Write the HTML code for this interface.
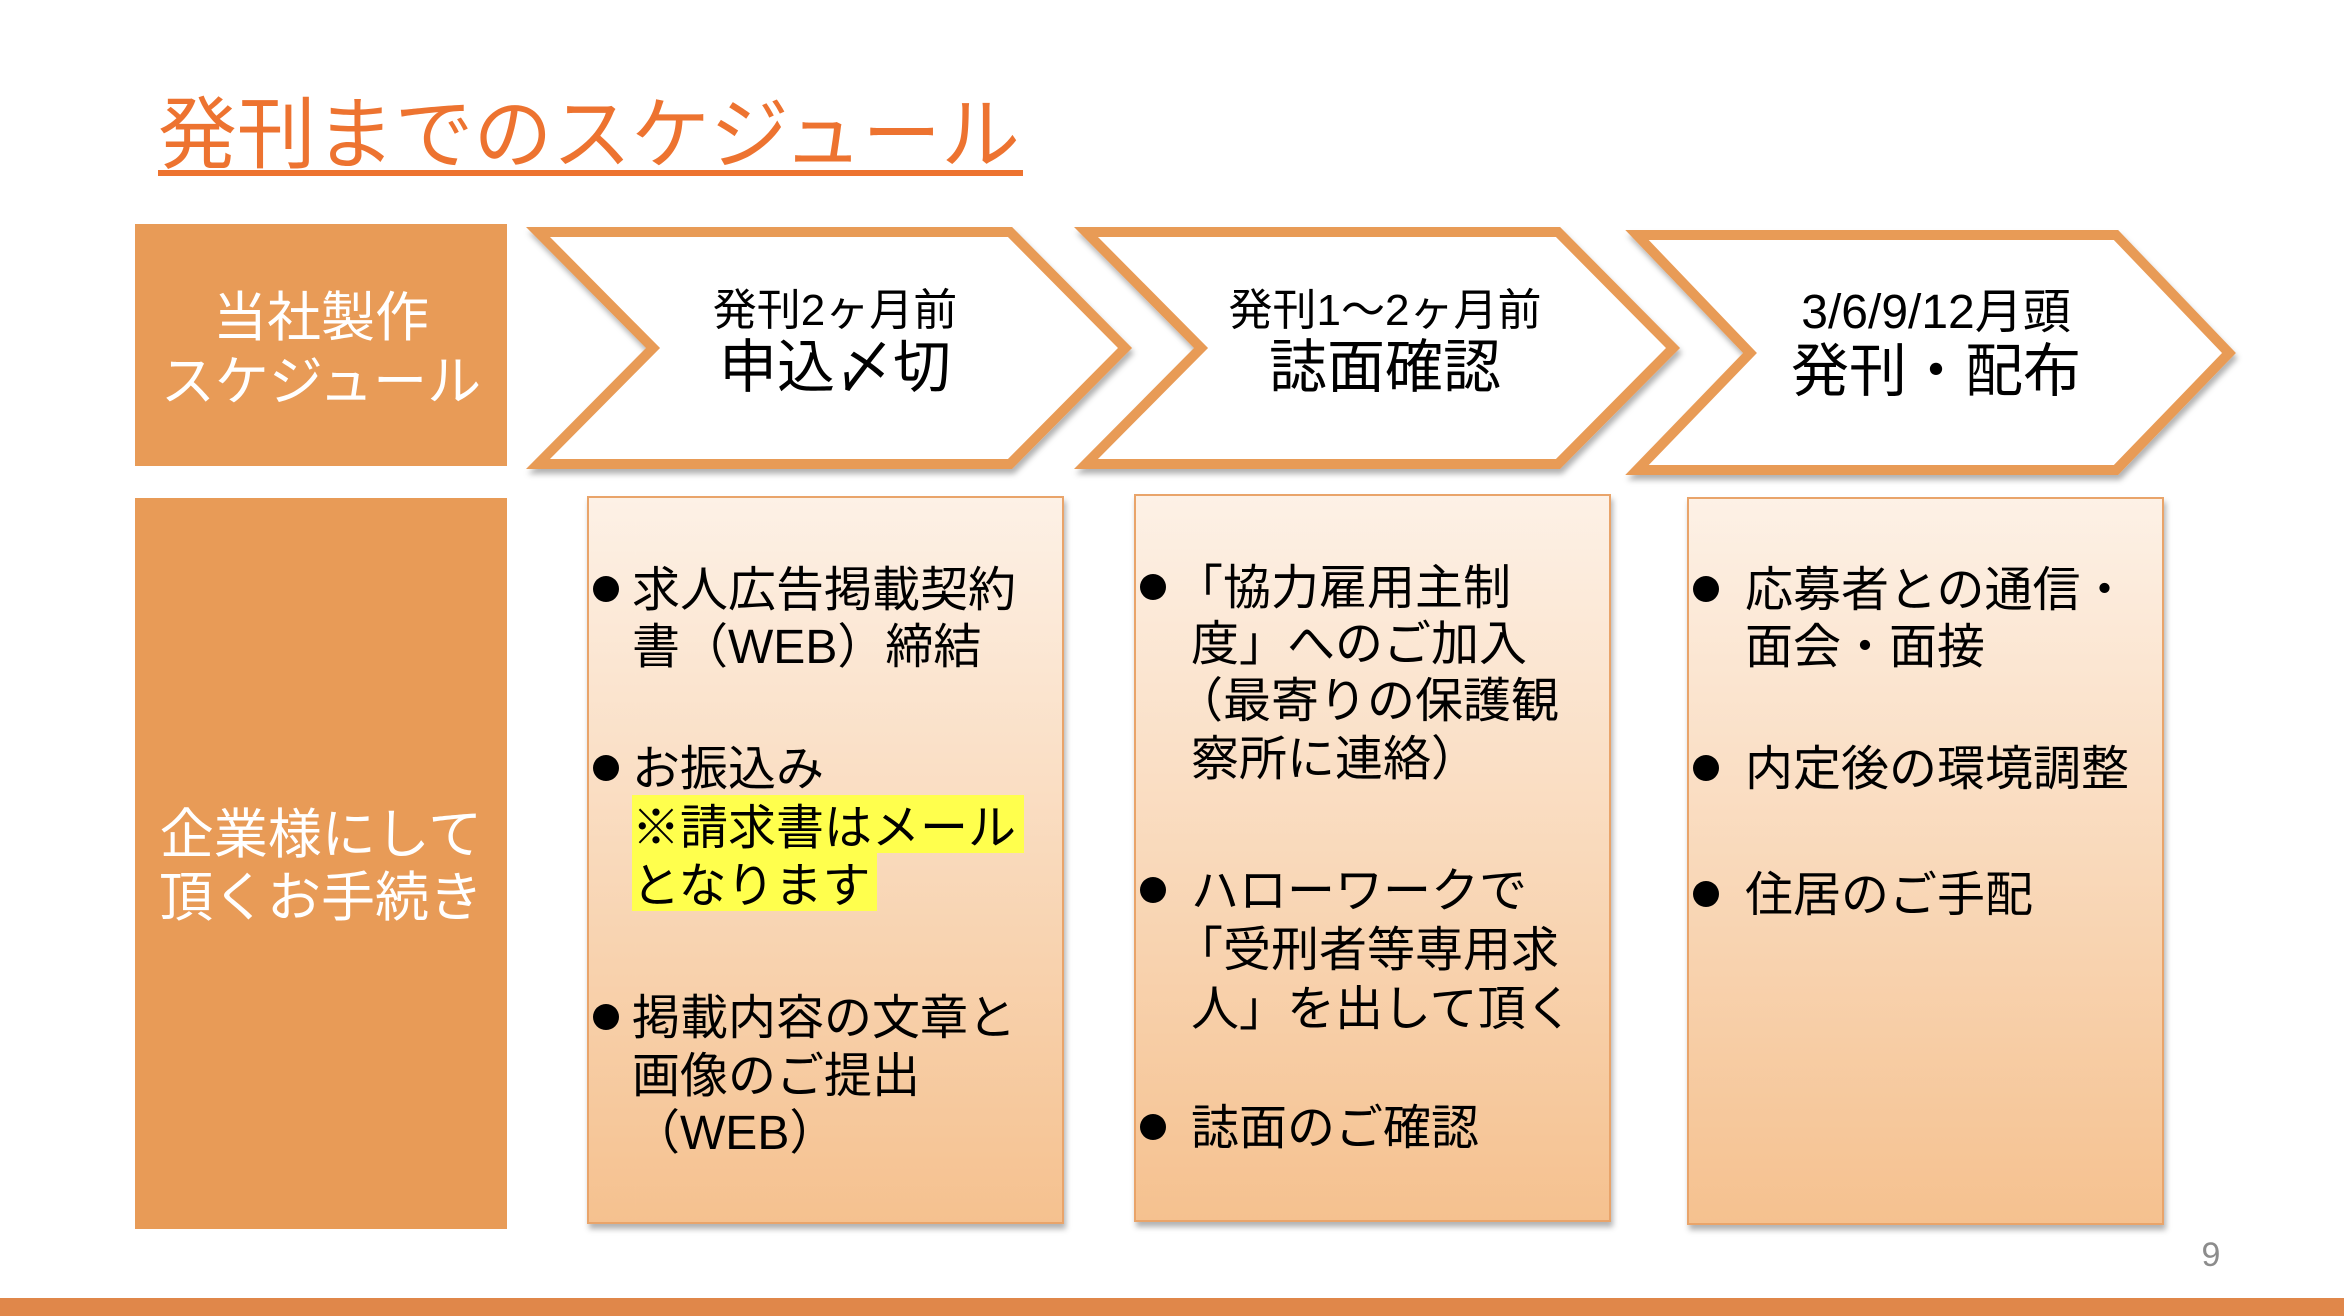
<!DOCTYPE html>
<html><head><meta charset="utf-8"><style>
html,body{margin:0;padding:0;background:#fff}
svg{display:block}
text{font-family:"Liberation Sans","Noto Sans CJK JP",sans-serif}
</style></head><body>
<svg width="2344" height="1316" viewBox="0 0 2344 1316" xmlns="http://www.w3.org/2000/svg">
<defs>
<linearGradient id="g" x1="0" y1="0" x2="0" y2="1">
<stop offset="0" stop-color="#fdf1e6"/><stop offset="1" stop-color="#f5c18f"/>
</linearGradient>
<filter id="sh" x="-5%" y="-5%" width="110%" height="115%"><feDropShadow dx="2" dy="5" stdDeviation="3" flood-color="#000" flood-opacity="0.3"/></filter>
</defs>
<!-- title -->
<text x="158" y="162" font-size="79" fill="#ED7330" textLength="862" lengthAdjust="spacingAndGlyphs">発刊までのスケジュール</text>
<rect x="158" y="170" width="865" height="6" fill="#ED7330"/>
<!-- left boxes -->
<rect x="135" y="224" width="372" height="242" fill="#E89B57"/>
<rect x="135" y="498" width="372" height="731" fill="#E89B57"/>
<g fill="#fff" font-size="54" text-anchor="middle">
<text x="321" y="336">当社製作</text>
<text x="321" y="400">スケジュール</text>
<text x="321" y="853">企業様にして</text>
<text x="321" y="916">頂くお手続き</text>
</g>
<!-- chevrons -->
<g fill="#fff" stroke="#E89B57" stroke-width="10" filter="url(#sh)">
<polygon points="538,232 1010,232 1125,348 1010,464 538,464 653,348"/>
<polygon points="1086,232 1558,232 1673,348 1558,464 1086,464 1201,348"/>
<polygon points="1637,235 2116,235 2229,353 2116,470 1637,470 1750,353"/>
</g>
<g fill="#000" text-anchor="middle">
<text x="835" y="325" font-size="44">発刊2ヶ月前</text>
<text x="835" y="387" font-size="58">申込〆切</text>
<text x="1385" y="325" font-size="44">発刊1～2ヶ月前</text>
<text x="1385" y="387" font-size="58">誌面確認</text>
<text x="1936" y="328" font-size="48">3/6/9/12月頭</text>
<text x="1936" y="391" font-size="58">発刊・配布</text>
</g>
<!-- content boxes -->
<g fill="url(#g)" stroke="#e9a46a" stroke-width="2" filter="url(#sh)">
<rect x="588" y="497" width="475" height="726"/>
<rect x="1135" y="495" width="475" height="726"/>
<rect x="1688" y="498" width="475" height="726"/>
</g>
<rect x="632" y="795" width="392" height="58" fill="#FFFF4D"/>
<rect x="632" y="853" width="245" height="58" fill="#FFFF4D"/>
<g fill="#000">
<circle cx="606" cy="589" r="13"/><circle cx="606" cy="768" r="13"/><circle cx="606" cy="1017" r="13"/>
<circle cx="1153" cy="587" r="13"/><circle cx="1153" cy="890" r="13"/><circle cx="1153" cy="1127" r="13"/>
<circle cx="1706" cy="589" r="13"/><circle cx="1706" cy="768" r="13"/><circle cx="1706" cy="894" r="13"/>
</g>
<g fill="#000" font-size="48">
<text x="632" y="606">求人広告掲載契約</text>
<text x="632" y="663">書（WEB）締結</text>
<text x="632" y="785">お振込み</text>
<text x="632" y="844">※請求書はメール</text>
<text x="632" y="902">となります</text>
<text x="632" y="1034">掲載内容の文章と</text>
<text x="632" y="1092">画像のご提出</text>
<text x="632" y="1149">（WEB）</text>

<text x="1175" y="604">「協力雇用主制</text>
<text x="1191" y="660">度」へのご加入</text>
<text x="1175" y="717">（最寄りの保護観</text>
<text x="1191" y="775">察所に連絡）</text>
<text x="1191" y="907">ハローワークで</text>
<text x="1175" y="966">「受刑者等専用求</text>
<text x="1191" y="1025">人」を出して頂く</text>
<text x="1191" y="1144">誌面のご確認</text>

<text x="1745" y="606">応募者との通信・</text>
<text x="1745" y="663">面会・面接</text>
<text x="1745" y="785">内定後の環境調整</text>
<text x="1745" y="911">住居のご手配</text>
</g>
<text x="2211" y="1266" font-size="34" fill="#8c8c8c" text-anchor="middle">9</text>
<rect x="0" y="1298" width="2344" height="18" fill="#E0874A"/>
</svg>
</body></html>
